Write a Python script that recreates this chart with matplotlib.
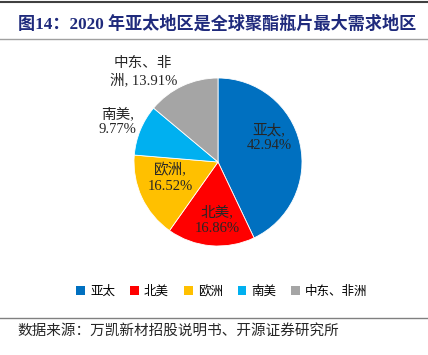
import matplotlib
matplotlib.use("Agg")
import matplotlib.pyplot as plt
from matplotlib.lines import Line2D
from matplotlib.patches import Patch

plt.rcParams['font.family'] = ['Liberation Serif', 'Noto Sans CJK SC']

regions = ['亚太', '北美', '欧洲', '南美', '中东、非洲']
shares = [42.94, 16.86, 16.52, 9.77, 13.91]
colors = ['#0070C0', '#FF0000', '#FFC000', '#00B0F0', '#A5A5A5']
label_heads = ['亚太,\n', '北美,\n', '欧洲,\n', '南美,\n', '中东、非\n洲, ']
# label positions in pie radius units
label_pos = [(0.61, 0.29), (-0.01, -0.69), (-0.57, -0.19), (-1.20, 0.48), (-0.89, 1.07)]

W, H = 428, 355
fig = plt.figure(figsize=(W / 100, H / 100), dpi=100)

# pie axes
R = 84
cx, cy = 218, 162
span = 1.5
w = 2 * span * R / W
h = 2 * span * R / H
ax = fig.add_axes([cx / W - w / 2, 1 - cy / H - h / 2, w, h])
ax.pie(shares, colors=colors, startangle=90, counterclock=False,
       wedgeprops=dict(edgecolor='white', linewidth=0.6))
ax.set_xlim(-span, span)
ax.set_ylim(-span, span)
ax.set_aspect('equal')
ax.axis('off')

for head, val, (lx, ly) in zip(label_heads, shares, label_pos):
    ax.text(lx, ly, head + '%.2f%%' % val, ha='center', va='center', fontsize=10.5,
            color='#262626', linespacing=1.25)

# legend
handles = [Patch(facecolor=c, edgecolor='none') for c in colors]
fig.legend(handles, regions, loc='center', bbox_to_anchor=(222 / W, 1 - 292 / H),
           ncol=5, frameon=False, fontsize=9, handlelength=0.7, handleheight=0.7,
           handletextpad=0.4, columnspacing=1.2)

# title and rules
fig.add_artist(Line2D([0, 1], [1 - 2 / H, 1 - 2 / H], color='#404040', linewidth=1.5))
fig.text(18 / W, 1 - 24 / H, '图14：2020 年亚太地区是全球聚酯瓶片最大需求地区',
         fontsize=12.3, fontweight='bold', color='#1F2A7C', va='center', ha='left')
fig.add_artist(Line2D([0, 1], [1 - 39 / H, 1 - 39 / H], color='#A0A0A0', linewidth=1.0))

fig.add_artist(Line2D([0, 1], [1 - 318 / H, 1 - 318 / H], color='#808080', linewidth=1.0))
fig.text(17 / W, 1 - 331 / H, '数据来源：万凯新材招股说明书、开源证券研究所',
         fontsize=10.5, color='#262626', va='center', ha='left')

fig.savefig('out.png', dpi=100)
